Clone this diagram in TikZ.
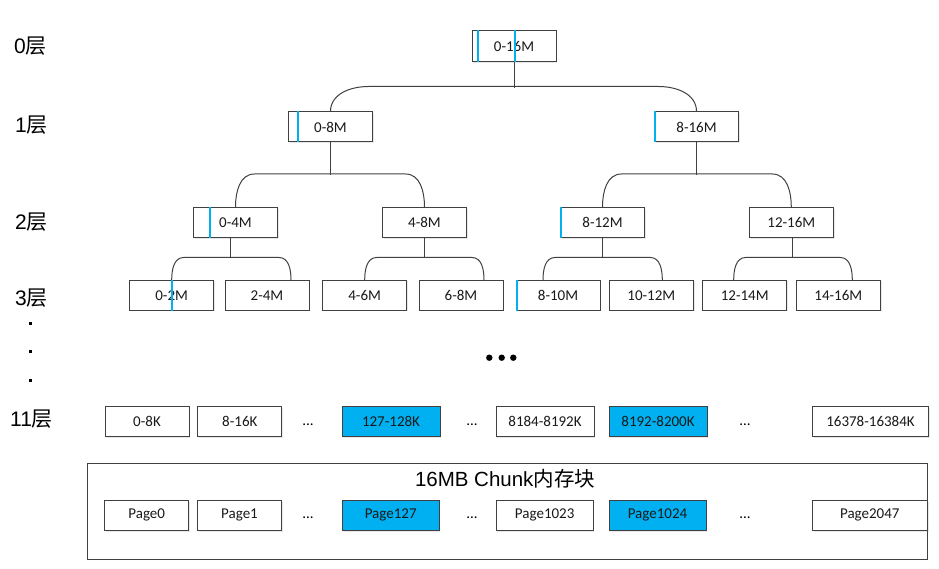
\documentclass[tikz,border=0pt]{standalone}
\usepackage{fontspec}
\setmainfont{Carlito}
\newfontfamily\labelfont{Liberation Sans}
\newfontfamily\cjk{Noto Sans CJK SC}
\usetikzlibrary{shadows}
\definecolor{memblue}{HTML}{00B0F0}
\definecolor{boxline}{HTML}{404040}
\begin{document}
\begin{tikzpicture}[x=1pt,y=1pt,
  box/.style={draw=boxline, line width=1pt, fill=white, minimum width=84pt, minimum height=30pt, inner sep=0pt, text=black!90, font=\fontsize{15}{18}\selectfont, drop shadow={opacity=0.18, shadow xshift=1.2pt, shadow yshift=-1.2pt}},
  hibox/.style={box, fill=memblue},
  link/.style={draw=boxline, line width=1pt},
  bluemark/.style={draw=memblue, line width=2pt},
  lvlabel/.style={anchor=west, inner sep=0pt, font=\labelfont\fontsize{21}{24}\selectfont},
  ellip/.style={inner sep=0pt, font=\fontsize{15}{18}\selectfont}]
\useasboundingbox (0,0) rectangle (939,568);
\node[lvlabel] (lv0) at (14,521.7) {0{\cjk 层}};
\node[lvlabel] (lv1) at (15,443.3) {1{\cjk 层}};
\node[lvlabel] (lv2) at (15,346) {2{\cjk 层}};
\node[lvlabel] (lv3) at (15,269.7) {3{\cjk 层}};
\node[lvlabel] (lv11) at (10,148.8) {11{\cjk 层}};
\foreach \y in {244.7,216.3,188} \fill (28.5,\y-1.5) rectangle ++(3,3);
\node[box, minimum height=31pt] (l0) at (514,521.5) {0-16M};
\node[box] (l1a) at (330.5,441) {0-8M};
\node[box] (l1b) at (696.5,441) {8-16M};
\node[box] (l2a) at (235.5,345.5) {0-4M};
\node[box] (l2b) at (424.5,345.5) {4-8M};
\node[box] (l2c) at (602.5,345.5) {8-12M};
\node[box] (l2d) at (791.3,345.5) {12-16M};
\node[box] (l3a) at (171.7,272.7) {0-2M};
\node[box] (l3b) at (267,272.7) {2-4M};
\node[box] (l3c) at (364.7,272.7) {4-6M};
\node[box] (l3d) at (461,272.7) {6-8M};
\node[box] (l3e) at (558,272.7) {8-10M};
\node[box] (l3f) at (651.3,272.7) {10-12M};
\node[box] (l3g) at (744.7,272.7) {12-14M};
\node[box] (l3h) at (838.3,272.7) {14-16M};
\draw[link] (l0.south) -- ++(0,-25.5);
\draw[link] (l1a.north) to[out=90,in=180] ++(38,25) -- ([xshift=-38,yshift=25]l1b.north) to[out=0,in=90] (l1b.north);
\draw[link] (l1a.south) -- ++(0,-32.5);
\draw[link] (l2a.north) to[out=90,in=180] ++(19,33) -- ([xshift=-19,yshift=33]l2b.north) to[out=0,in=90] (l2b.north);
\draw[link] (l1b.south) -- ++(0,-32.5);
\draw[link] (l2c.north) to[out=90,in=180] ++(19,33) -- ([xshift=-19,yshift=33]l2d.north) to[out=0,in=90] (l2d.north);
\draw[link] ([xshift=-5]l2a.south) -- ++(0,-20.2);
\draw[link] (l3a.north) to[out=90,in=180] ++(12,22.3) -- ([xshift=12,yshift=22.3]l3b.north) to[out=0,in=90] ([xshift=24]l3b.north);
\draw[link] (l2b.south) -- ++(0,-20.2);
\draw[link] (l3c.north) to[out=90,in=180] ++(12,22.3) -- ([xshift=11,yshift=22.3]l3d.north) to[out=0,in=90] ([xshift=23]l3d.north);
\draw[link] (l2c.south) -- ++(0,-20.2);
\draw[link] ([xshift=-15]l3e.north) to[out=90,in=180] ++(12,22.3) -- ([xshift=-1,yshift=22.3]l3f.north) to[out=0,in=90] ([xshift=11]l3f.north);
\draw[link] ([xshift=1.4]l2d.south) -- ++(0,-20.2);
\draw[link] ([xshift=-11]l3g.north) to[out=90,in=180] ++(12,22.3) -- ([xshift=2,yshift=22.3]l3h.north) to[out=0,in=90] ([xshift=14]l3h.north);
\draw[bluemark] ([xshift=6.5]l0.north west) -- ([xshift=6.5]l0.south west);
\draw[bluemark] ([xshift=1]l0.north) -- ([xshift=1]l0.south);
\draw[bluemark] ([xshift=10]l1a.north west) -- ([xshift=10]l1a.south west);
\draw[bluemark] ([xshift=1]l1b.north west) -- ([xshift=1]l1b.south west);
\draw[bluemark] ([xshift=17]l2a.north west) -- ([xshift=17]l2a.south west);
\draw[bluemark] ([xshift=1]l2c.north west) -- ([xshift=1]l2c.south west);
\draw[bluemark] (l3a.north) -- (l3a.south);
\draw[bluemark] ([xshift=1]l3e.north west) -- ([xshift=1]l3e.south west);
\foreach \x in {489.3,501.7,513.3} \fill (\x,210.3) circle (3.2);
\node[box] (k0) at (147,146.3) {0-8K};
\node[box] (k1) at (239.8,146.3) {8-16K};
\node[ellip] (kd1) at (308,143) {...};
\node[hibox, minimum width=98pt] (k127) at (391,146.3) {127-128K};
\node[ellip] (kd2) at (472,143) {...};
\node[box, minimum width=98pt] (k1023) at (545,146.3) {8184-8192K};
\node[hibox, minimum width=98pt] (k1024) at (658,146.3) {8192-8200K};
\node[ellip] (kd3) at (745,143) {...};
\node[box, minimum width=116pt] (klast) at (870.5,146.3) {16378-16384K};
\node[box, minimum width=840pt, minimum height=95.7pt] (chunk) at (507.2,56.8) {};
\node[font=\labelfont\fontsize{20.5}{24}\selectfont, inner sep=0pt] (title) at (505,89) {16MB Chunk{\cjk 内存块}};
\node[box] (p0) at (146.7,52.7) {Page0};
\node[box] (p1) at (239.5,52.7) {Page1};
\node[ellip] (pd1) at (308,50) {...};
\node[hibox, minimum width=97pt] (p127) at (390.7,52.7) {Page127};
\node[ellip] (pd2) at (472,50) {...};
\node[box, minimum width=97pt] (p1023) at (544.7,52.7) {Page1023};
\node[hibox, minimum width=97pt] (p1024) at (657.5,52.7) {Page1024};
\node[ellip] (pd3) at (745,50) {...};
\node[box, minimum width=115pt] (plast) at (869.8,52.7) {Page2047};
\end{tikzpicture}
\end{document}
